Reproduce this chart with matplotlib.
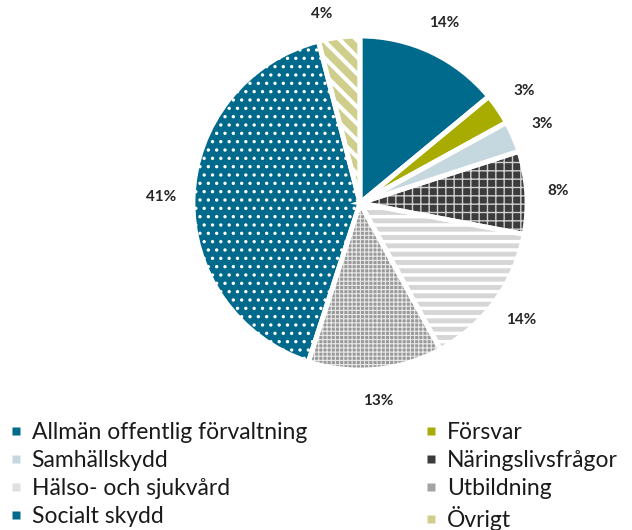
import matplotlib
matplotlib.use("Agg")
import matplotlib.pyplot as plt
from matplotlib.lines import Line2D

categories = ["Allmän offentlig förvaltning", "Försvar", "Samhällskydd",
              "Näringslivsfrågor", "Hälso- och sjukvård", "Utbildning",
              "Socialt skydd", "Övrigt"]
values = [14, 3, 3, 8, 14, 13, 41, 4]

face_colors = ["#006A8C", "#A9AC00", "#C6D8DF", "#3B3B3B",
               "#FFFFFF", "#9A9A9A", "#006A8C", "#CFCE8C"]
hatches = [None, None, None, "++", "--", "++++", "..", "\\\\"]
hatch_colors = [None, None, None, "#D0D0D0", "#D6D6D6", "#E8E8E8", "#FFFFFF", "#FFFFFF"]
hatch_lw = [1, 1, 1, 1.0, 3.5, 0.8, 1.2, 3.0]
legend_colors = ["#006A8C", "#A9AC00", "#C6D8DF", "#3B3B3B",
                 "#E0E0E0", "#A3A3A3", "#006A8C", "#CFCE8C"]

plt.rcParams['font.family'] = ['Lato', 'DejaVu Sans']

fig = plt.figure(figsize=(6.32, 5.30), dpi=100)
cx, cy, R = 360, 203, 167
W, H = 632, 530
ax = fig.add_axes([(cx - R) / W, (H - cy - R) / H, 2 * R / W, 2 * R / H])

wedges, texts, autotexts = ax.pie(
    values, colors=face_colors, startangle=90, counterclock=False,
    autopct='%.0f%%', pctdistance=1.19, radius=1,
    wedgeprops=dict(linewidth=0, edgecolor='none'),
    textprops=dict(fontsize=11, fontweight='bold', color='#262626'))
autotexts[-1].set_position((-0.23, 1.13))

for w, h, hc, hl in zip(wedges, hatches, hatch_colors, hatch_lw):
    if h:
        w.set_edgecolor(hc)
        w.set_linewidth(0)
        w.set_hatch(h)
        if hasattr(w, "set_hatch_linewidth"):
            w.set_hatch_linewidth(hl)

# white outlines to separate slices
ax.pie(values, colors=['none'] * len(values), startangle=90, counterclock=False,
       radius=1, wedgeprops=dict(linewidth=3.5, edgecolor='white', facecolor='none'))

ax.set_xlim(-1, 1)
ax.set_ylim(-1, 1)
ax.set_aspect('equal')
ax.axis('off')

order = [0, 2, 4, 6, 1, 3, 5, 7]
handles = [Line2D([], [], linestyle='none', marker='s', markersize=6,
                  markerfacecolor=legend_colors[i], markeredgecolor='none')
           for i in order]
labels = [categories[i] for i in order]
fig.legend(handles, labels, ncol=2, loc='upper left',
           bbox_to_anchor=(0.003, 1 - 413 / H), frameon=False,
           fontsize=16.5, handlelength=0.45, handletextpad=0.45,
           columnspacing=5.2, labelspacing=0.30, borderaxespad=0,
           labelcolor='#1a1a1a')

fig.savefig("out.png", dpi=100)
